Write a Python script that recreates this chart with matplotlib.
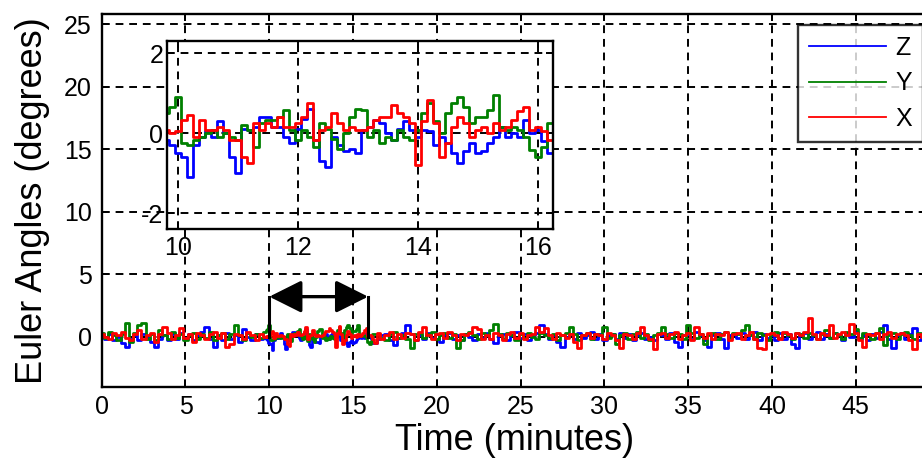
import numpy as np
import matplotlib
matplotlib.use("Agg")
import matplotlib.pyplot as plt

plt.rcParams['font.family'] = ['Liberation Sans', 'DejaVu Sans']
plt.rcParams['axes.unicode_minus'] = False

# ---------------- data ----------------
series_names = ["Z", "Y", "X"]
series_colors = ["#0000ff", "#008000", "#ff0000"]

# sampling grids (minutes)
t_pre = np.arange(0.0, 9.76, 0.25)        # 0 .. 9.75
t_zoom = np.round(np.arange(9.8, 16.31, 0.1), 2)  # 9.8 .. 16.3 (inset window)
t_post = np.arange(16.5, 49.01, 0.25)     # 16.5 .. 49

z_pre = [0.1, -0.2, 0.2, -0.3, 0.0, -0.5, -0.8, -0.2, 0.1, -0.3, 0.2, -0.1, -0.4, -0.8, -0.2, 0.1,
         -0.3, 0.2, -0.2, 0.3, -0.1, 0.2, -0.3, 0.1, 0.4, 0.8, -0.2, -0.8, 0.1, -0.3, 0.3, -0.2,
         0.1, -0.4, 0.6, 0.0, -0.3, 0.2, -0.2, -0.1]
y_pre = [0.3, -0.1, 0.4, 0.1, -0.3, 0.2, 1.1, -0.4, 0.3, 0.9, 1.1, -0.2, 0.2, -0.3, 0.5, 0.1,
         -0.2, 0.4, -0.1, 0.2, -0.3, 0.1, 0.3, -0.2, 0.2, -0.1, 0.4, -0.3, 0.1, 0.3, -0.2, 0.2,
         0.9, 0.1, -0.3, 0.3, 0.0, 0.2, -0.1, 0.4]
x_pre = [0.2, 0.0, -0.2, 0.3, 0.1, 0.4, -0.1, -0.3, 0.2, 0.5, -0.2, 0.1, 0.3, -0.4, 0.2, 0.8,
         0.3, -0.2, 0.1, 0.7, -0.1, 0.2, -0.4, 0.3, 0.1, -0.2, 0.2, 0.4, -0.1, 0.3, -0.8, -0.6,
         0.2, 0.1, -0.2, 0.4, 0.1, -0.3, 0.2, 0.0]

z_zoom = [-0.17, -0.3, -0.5, -0.6, -1.1, -0.3, -0.1, 0.05, -0.08, 0.3, 0.0, -0.6, -1.0, 0.1,
          0.08, 0.15, 0.4, 0.4, 0.17, 0.17, -0.08, -0.25, 0.1, 0.35, 0.6, -0.17, -0.7, -0.85,
          -0.1, -0.3, -0.45, -0.4, -0.5, 0.08, 0.17, 0.33, 0.25, 0.0, -0.17, 0.1, 0.3, 0.08,
          -0.08, 0.08, 0.05, -0.3, -0.08, -0.25, -0.5, -0.75, -0.45, -0.25, -0.5, -0.45, -0.25,
          -0.08, 0.17, -0.08, 0.0, -0.08, 0.33, 0.0, 0.08, -0.2, -0.5, -0.5]
y_zoom = [0.5, 0.65, 0.9, -0.25, -0.3, -0.17, -0.08, 0.0, 0.08, -0.08, 0.0, -0.08, -0.17, 0.2,
          0.08, -0.33, 0.25, 0.33, 0.33, 0.42, 0.58, 0.08, -0.17, 0.08, -0.08, -0.33, 0.25, 0.1,
          -0.15, -0.4, 0.0, 0.42, 0.62, 0.58, -0.08, 0.08, -0.25, -0.08, -0.17, 0.08, -0.08,
          -0.17, 0.08, 0.5, 0.75, 0.3, 0.0, 0.5, 0.75, 0.9, 0.67, 0.25, 0.42, 0.42, 0.58, 0.95,
          0.17, 0.08, 0.17, 0.08, -0.08, -0.42, -0.6, -0.33, 0.25, 0.25]
x_zoom = [0.08, 0.0, 0.05, 0.33, 0.45, -0.08, 0.33, 0.08, 0.08, 0.17, 0.08, -0.17, -0.17, -0.58,
          -0.75, 0.25, 0.08, 0.25, 0.17, 0.4, 0.17, 0.17, 0.25, 0.42, 0.75, -0.17, 0.08, 0.17,
          0.5, 0.25, 0.08, 0.17, 0.08, 0.08, 0.17, 0.33, 0.42, 0.42, 0.7, 0.5, 0.4, 0.25, -0.8,
          0.3, 0.83, 0.25, -0.58, -0.25, 0.17, 0.42, 0.25, -0.08, 0.08, 0.17, 0.0, 0.25, 0.08,
          0.17, 0.33, 0.55, 0.67, 0.08, 0.17, 0.05, -0.17, -0.5]

z_post = [-0.2, 0.1,
          0.2, -0.3, -0.7, -0.1,  0.3, 0.9, 0.2, -0.3,  0.1, -0.2, 0.3, -0.1,  0.2, -0.4, 0.1, 0.3,
          -0.2, 0.1, -0.3, 0.2,  0.0, -0.3, 0.2, -0.1,  0.3, -0.2, -0.5, 0.1,  0.2, -0.3, 0.1, 0.4,
          -0.1, 0.2, -0.3, 0.1,  0.3, 0.9, 0.2, -0.2,  0.1, -0.4, -0.8, 0.0,  0.2, -0.2, 0.3, -0.1,
          0.1, 0.4, -0.2, 0.2,  -0.3, 0.1, 0.2, -0.2,  0.3, -0.1, 0.2, -0.3,  0.1, 0.3, -0.2, 0.0,
          -0.3, 0.2, 0.1, -0.2,  0.3, -0.4, -0.8, 0.1,  0.2, -0.2, 0.4, 0.1,  -0.3, -0.8, 0.1, 0.3,
          -0.2, -0.9, 0.1, 0.2,  -0.1, 0.3, -0.2, 0.1,  0.4, -0.3, 0.2, -0.1,  0.1, -0.3, 0.3, -0.2,
          0.2, -0.6, -0.9, 0.1,  0.3, -0.2, 0.1, 0.4,  -0.2, 0.2, -0.1, 0.3,  0.1, -0.3, 0.2, 0.0,
          0.4, -0.2, 0.1, -0.3,  0.2, -0.1, 0.4, 0.9,  -0.2, -0.9, 0.1, 0.3,  -0.2, 0.2, 0.7, -0.3,
          -0.1]
y_post = [0.2, -0.1,
          -0.3, 0.2, 0.4, -0.1,  0.1, -0.2, -0.9, 0.2,  0.3, -0.1, 0.2, 0.4,  -0.2, 0.1, 0.3, -0.1,
          0.2, -0.9, -0.3, 0.2,  0.4, 0.1, -0.2, 0.3,  0.1, 0.5, 1.0, 0.2,  -0.2, 0.3, 0.1, -0.3,
          0.2, -0.1, 0.3, 0.0,  -0.2, 0.3, 0.1, -0.1,  0.2, -0.3, 0.1, 0.3,  0.8, 0.2, -0.3, 0.1,
          0.3, -0.2, 0.2, 0.1,  0.8, -0.1, 0.2, -0.6,  0.1, 0.3, -0.2, 0.2,  0.4, -0.1, 0.2, -0.3,
          0.1, 0.3, 0.8, 0.2,  -0.1, 0.3, 0.2, -0.2,  0.9, 0.3, -0.1, 0.2,  -0.6, 0.1, 0.3, -0.2,
          0.2, 0.4, -0.1, 0.3,  0.2, 0.5, 0.9, 0.1,  -0.2, 0.3, 0.1, -0.3,  0.2, 0.4, -0.1, 0.3,
          0.1, -0.2, 0.3, 0.2,  -0.1, 0.3, 0.1, -0.2,  0.2, 0.5, -0.1, 0.3,  0.1, -0.2, 0.4, 0.2,
          0.6, -0.1, 0.3, 0.2,  -0.2, 0.3, 0.7, -0.7,  0.1, 0.3, -0.2, 0.2,  0.4, 0.1, -0.2, 0.3,
          0.1]
x_post = [0.3, -0.2,
          0.1, 0.4, -0.2, 0.2,  -0.1, 0.3, 0.2, -0.3,  0.4, 0.8, 0.1, -0.2,  0.2, 0.3, -0.1, 0.4,
          0.1, -0.3, 0.2, 0.1,  0.3, 0.8, 0.6, -0.2,  0.1, -0.2, 0.3, 0.1,  -0.3, 0.2, 0.4, -0.1,
          0.3, -0.2, 0.1, 0.2,  0.8, 0.4, 0.7, 0.1,  -0.2, 0.3, 0.1, -0.1,  0.2, -0.4, -0.9, 0.1,
          0.3, -0.1, 0.2, 0.1,  -0.2, 0.3, 0.1, -0.3,  -0.9, 0.2, 0.1, -0.2,  0.3, 0.8, 0.1, -0.2,
          -1.0, 0.2, 0.3, -0.1,  0.2, 0.4, -0.2, 0.1,  0.3, -0.3, 0.8, 0.2,  -0.1, 0.3, -0.2, 0.2,
          0.1, 0.4, -0.3, 0.2,  0.3, -0.2, 0.1, 0.4,  -0.2, -0.9, -1.0, 0.2,  0.3, 0.1, -0.2, 0.4,
          0.2, -0.1, 0.3, 0.1,  0.4, 1.5, 0.2, -0.2,  0.3, 0.1, 0.9, -0.1,  0.2, 0.4, 0.1, 1.0,
          0.3, -0.3, -0.8, 0.2,  0.1, 0.3, -0.2, 0.2,  0.4, -0.1, 0.2, 0.3,  0.1, -0.3, -1.0, 0.2,
          0.0]

main_xticks = [0, 5, 10, 15, 20, 25, 30, 35, 40, 45]
main_yticks = [0, 5, 10, 15, 20, 25]
inset_xticks = [10, 12, 14, 16]
inset_yticks = [-2, 0, 2]
span_start, span_end, span_height = 10.0, 15.9, 3.2

xlabel = "Time (minutes)"
ylabel = "Euler Angles (degrees)"

# ---------------- figure ----------------
W, H = 922, 469
fig = plt.figure(figsize=(W / 100, H / 100), dpi=100)

def px_rect(l, t, r, b):
    return [l / W, 1 - b / H, (r - l) / W, (b - t) / H]

ax = fig.add_axes(px_rect(101.7, 14, 927, 386.7))
axin = fig.add_axes(px_rect(167.3, 41, 553.3, 229.3))

pre = [z_pre, y_pre, x_pre]
zoom = [z_zoom, y_zoom, x_zoom]
post = [z_post, y_post, x_post]

grid_kw = dict(color='black', linestyle=(0, (4, 3)), linewidth=1.4)

for a in (ax, axin):
    for s in a.spines.values():
        s.set_linewidth(1.7)
        s.set_color('black')
    a.tick_params(direction='in', top=True, right=True, length=5, width=1.4,
                  labelsize=18, colors='black')
    a.grid(True, **grid_kw)
    a.set_axisbelow(True)

for name, col, p, zz, q in zip(series_names, series_colors, pre, zoom, post):
    tt = np.concatenate([t_pre, t_zoom, t_post])
    vv = np.concatenate([p, zz, q])
    ax.plot(tt, vv, color=col, lw=2.0, drawstyle='steps-mid', label=name)
    axin.plot(t_zoom, zz, color=col, lw=2.0, drawstyle='steps-mid')

ax.set_xlim(0, 49.25)
ax.set_ylim(-4.0, 25.8)
ax.set_xticks(main_xticks)
ax.set_yticks(main_yticks)
ax.tick_params(axis='x', pad=6)
ax.tick_params(axis='y', pad=7)
ax.set_xlabel(xlabel, fontsize=26, labelpad=3)
ax.set_ylabel(ylabel, fontsize=26, labelpad=10)

# span marker with double arrow
ax.plot([span_start, span_start], [0, span_height], color='black', lw=2.2)
ax.plot([span_end, span_end], [0, span_height], color='black', lw=2.2)
ax.annotate('', xy=(span_end, span_height), xytext=(span_start, span_height),
            arrowprops=dict(arrowstyle='<|-|>,head_length=1.0,head_width=0.5',
                            mutation_scale=20, color='black', lw=2.4,
                            shrinkA=0, shrinkB=0))

axin.set_facecolor('white')
axin.set_xlim(9.816, 16.26)
axin.set_ylim(-2.4, 2.31)
axin.set_xticks(inset_xticks)
axin.set_yticks(inset_yticks)
axin.tick_params(axis='x', pad=5)
axin.tick_params(axis='y', pad=3)

leg = fig.legend(loc='upper left', bbox_to_anchor=(797.7 / W, 1 - 25 / H),
                 bbox_transform=fig.transFigure, fontsize=18, frameon=True,
                 fancybox=False, handlelength=3.1, handletextpad=0.35,
                 labelspacing=0.45, borderpad=0.45, borderaxespad=0)
leg.get_frame().set_edgecolor('black')
leg.get_frame().set_linewidth(1.7)
for line in leg.get_lines():
    line.set_linewidth(1.3)

fig.savefig('out.png', dpi=100)
